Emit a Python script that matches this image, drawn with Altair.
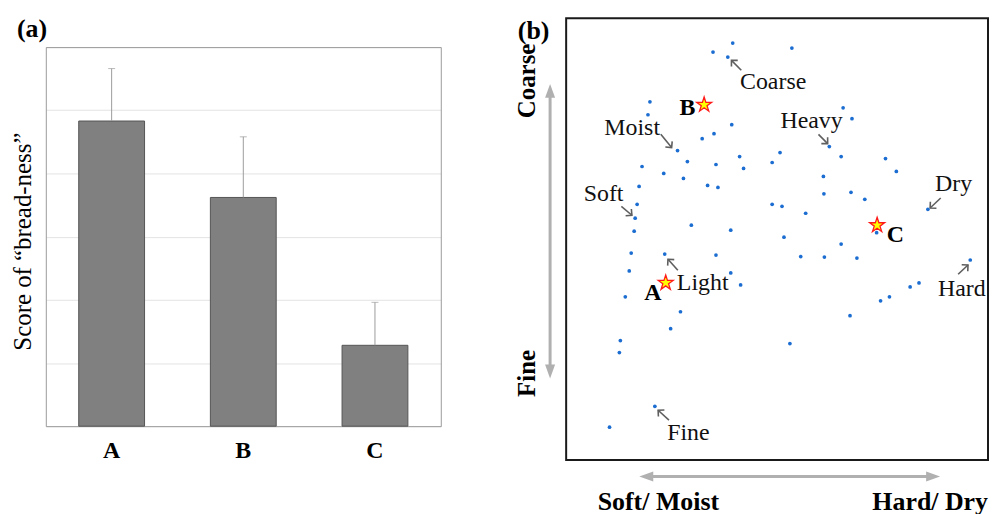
import math
import altair as alt
import pandas as pd

SERIF = "Liberation Serif"

# ---------------- Panel (a): bread-ness scores ----------------
samples = ["A", "B", "C"]
bread_score = [4.83, 3.62, 1.28]
bread_err = [0.83, 0.96, 0.68]
grid_values = [0, 1, 2, 3, 4, 5, 6]

# ---------------- Panel (b): sensory map (map units) ----------------
pt_x = [169, 149, 164, 229, 85, 83, 168, 150, 138, 113, 123, 176, 152, 180,
        77, 99, 119, 143.5, 154, 74, 72, 70, 69, 127, 167, 209, 209, 217,
        281, 290, 267, 279, 324, 335, 261, 261.5, 289, 303, 219, 243, 367,
        315, 221, 66, 100, 152, 64, 167, 177, 60, 116, 106, 55, 54, 90, 44,
        279, 238, 262, 295, 410, 349, 358, 319, 328, 288, 227]
pt_y = [419, 410, 405, 414, 360, 347, 337, 328, 323, 311, 300, 305, 297, 293,
        295, 288, 283, 276, 274, 275, 257, 243, 230, 236, 231, 257, 299, 309,
        354, 343, 315, 305, 303, 290, 285, 267.5, 269, 262, 255, 248, 252,
        228.5, 224, 208, 207, 206, 190, 188, 176, 164, 149, 132, 120, 108, 54, 33,
        217, 204.5, 204, 203, 201, 174, 178, 160, 164, 145, 117]

star_names = ["A", "B", "C"]
star_x = [101, 140, 315.5]
star_y = [178, 357, 236]
star_lab_x = [88, 123, 334]
star_lab_y = [168, 354, 226]

term_names = ["Coarse", "Moist", "Soft", "Heavy", "Dry", "Hard", "Light", "Fine"]
term_x = [210, 67, 38, 249, 393, 401.5, 138.5, 124]
term_y = [380, 334, 267, 341, 277, 172, 178, 27]
arrow_x1 = [177.7, 96, 56, 256, 380, 397.7, 113.3, 104.3]
arrow_y1 = [391.7, 327.3, 255, 327.3, 263.3, 186.7, 190.7, 40]
arrow_x2 = [167.7, 107, 66.7, 265.3, 369.3, 407.7, 103.3, 93.3]
arrow_y2 = [401.7, 314, 246, 318, 253.3, 196, 201.7, 50]

# axis direction arrows (tips) and their labels
v_arrow_x = -16.3
v_arrow_y = [82, 378]
h_arrow_x = [74.3, 379.3]
h_arrow_y = -16.7
side_labels = ["Coarse", "Fine"]
side_x = [-40, -40]
side_y = [381, 87]
bottom_labels = ["Soft/ Moist", "Hard/ Dry"]
bottom_x = [32, 428]
bottom_align = ["left", "right"]
bottom_y = [-42, -42]

# ================= Panel (a) =================
dfa = pd.DataFrame({"sample": samples, "score": bread_score, "err": bread_err})
dfa["upper"] = dfa["score"] + dfa["err"]
ytitle = "Score of \u201cbread-ness\u201d"
BORDER = "#9a9a9a"
PANEL_H = 444
bar_range = [410, 29]   # plot box of panel (a) inside the shared row height

xscale_a = alt.Scale(paddingInner=0.5, paddingOuter=0.25)
yscale_a = alt.Scale(domain=[0, 6], nice=False, range=bar_range)

xa = alt.X("sample:N", sort=samples, scale=xscale_a,
           axis=alt.Axis(title=None, labelAngle=0, labelFont=SERIF, labelFontSize=24,
                         labelFontWeight="bold", labelColor="black", ticks=False,
                         domain=True, domainColor=BORDER, offset=-34, labelPadding=12))
ya = alt.Y("score:Q", title=ytitle, scale=yscale_a,
           axis=alt.Axis(titleFont=SERIF, titleFontSize=25, titleFontWeight="normal",
                         titleColor="black", labels=False, ticks=False, domain=True,
                         domainColor=BORDER, grid=True, gridColor="#e3e3e3",
                         values=grid_values, titleX=-10, titleY=224, titleAngle=270,
                         titleBaseline="bottom", titleAlign="center"))

bars = alt.Chart(dfa).mark_bar(color="#808080", stroke="#555555", strokeWidth=1).encode(x=xa, y=ya)
errs = alt.Chart(dfa).mark_rule(color="#9c9c9c", strokeWidth=1).encode(
    x=alt.X("sample:N", sort=samples, axis=None),
    y=alt.Y("score:Q", title=ytitle, axis=None), y2="upper:Q")
caps = alt.Chart(dfa).mark_tick(color="#9c9c9c", thickness=1, size=7).encode(
    x=alt.X("sample:N", sort=samples, axis=None),
    y=alt.Y("upper:Q", title=ytitle, axis=None))
frame = alt.Chart(dfa).mark_tick(opacity=0).encode(
    x=alt.X("sample:N", sort=samples,
            axis=alt.Axis(orient="top", offset=-29, labels=False, ticks=False, title=None,
                          domain=True, domainColor=BORDER, grid=False)),
    y=alt.Y("score:Q", title=ytitle,
            axis=alt.Axis(orient="right", labels=False, ticks=False, title=None,
                          domain=True, domainColor=BORDER, grid=False)))

left = alt.layer(bars, errs, caps, frame).resolve_axis(x="independent", y="independent").properties(
    width=397, height=PANEL_H,
    view=alt.ViewBackground(strokeWidth=0),
    title=alt.TitleParams("(a)", anchor="start", frame="group", dx=-29, offset=-24,
                          font=SERIF, fontSize=26, fontWeight="bold", color="black"),
)

# ================= Panel (b) =================
xs = alt.Scale(domain=[0, 428], nice=False, zero=False)
ys = alt.Scale(domain=[0, 444], nice=False, zero=False)


def X(f):
    return alt.X(f, type="quantitative", scale=xs, axis=None)


def Y(f):
    return alt.Y(f, type="quantitative", scale=ys, axis=None)


dfp = pd.DataFrame({"x": pt_x, "y": pt_y})
pts = alt.Chart(dfp).mark_circle(size=14, color="#1b6dd1", opacity=1).encode(x=X("x"), y=Y("y"))

STAR = ("M0,-1L0.2245,-0.309L0.951,-0.309L0.363,0.118L0.588,0.809L0,0.382"
        "L-0.588,0.809L-0.363,0.118L-0.951,-0.309L-0.2245,-0.309Z")
dfs = pd.DataFrame({"name": star_names, "x": star_x, "y": star_y,
                    "lx": star_lab_x, "ly": star_lab_y})
stars = alt.Chart(dfs).mark_point(shape=STAR, filled=True, fill="#ffff00", stroke="#ff1a1a",
                                  strokeWidth=1.3, size=250, opacity=1).encode(x=X("x"), y=Y("y"))
star_labels = alt.Chart(dfs).mark_text(font=SERIF, fontSize=24, fontWeight="bold", color="black",
                                       align="center", baseline="middle").encode(
    x=X("lx"), y=Y("ly"), text="name:N")

dft = pd.DataFrame({"term": term_names, "x": term_x, "y": term_y,
                    "x1": arrow_x1, "y1": arrow_y1, "x2": arrow_x2, "y2": arrow_y2})
dft["ang"] = [(math.degrees(math.atan2(-(b2 - b1), a2 - a1)) + 360) % 360
              for a1, b1, a2, b2 in zip(dft.x1, dft.y1, dft.x2, dft.y2)]
terms = alt.Chart(dft).mark_text(font=SERIF, fontSize=24, color="#111111",
                                 align="center", baseline="middle").encode(
    x=X("x"), y=Y("y"), text="term:N")
ann_lines = alt.Chart(dft).mark_rule(color="#5f5f5f", strokeWidth=1.6).encode(
    x=X("x1"), y=Y("y1"), x2="x2:Q", y2="y2:Q")
CHEVRON = "M-1,-1L0,0L-1,1"
ann_heads = alt.Chart(dft).mark_point(shape=CHEVRON, filled=False, stroke="#5f5f5f",
                                      strokeWidth=1.6, size=80, opacity=1).encode(
    x=X("x2"), y=Y("y2"), angle=alt.Angle("ang:Q", scale=None))

# grey axis arrows
HEAD = "M0,-1L0.72,1L-0.72,1Z"
hl = 7.0  # half head length in map units
dfv = pd.DataFrame({"x": [v_arrow_x], "y": [v_arrow_y[0] + hl], "y2": [v_arrow_y[1] - hl]})
dfh = pd.DataFrame({"x": [h_arrow_x[0] + hl], "x2": [h_arrow_x[1] - hl], "y": [h_arrow_y]})
dfheads = pd.DataFrame({
    "x": [v_arrow_x, v_arrow_x, h_arrow_x[0] + hl, h_arrow_x[1] - hl],
    "y": [v_arrow_y[1] - hl, v_arrow_y[0] + hl, h_arrow_y, h_arrow_y],
    "ang": [0, 180, 270, 90],
})
GREY = "#b0b0b0"
v_shaft = alt.Chart(dfv).mark_rule(color=GREY, strokeWidth=3).encode(x=X("x"), y=Y("y"), y2="y2:Q")
h_shaft = alt.Chart(dfh).mark_rule(color=GREY, strokeWidth=3).encode(x=X("x"), x2="x2:Q", y=Y("y"))
g_heads = alt.Chart(dfheads).mark_point(shape=HEAD, filled=True, fill=GREY, strokeWidth=0,
                                        size=196, opacity=1).encode(
    x=X("x"), y=Y("y"), angle=alt.Angle("ang:Q", scale=None))

dfside = pd.DataFrame({"t": side_labels, "x": side_x, "y": side_y})
side_txt = alt.Chart(dfside).mark_text(font=SERIF, fontSize=25, fontWeight="bold", color="black",
                                       angle=270, align="center", baseline="middle").encode(
    x=X("x"), y=Y("y"), text="t:N")

bot_layers = []
for t, bx, by, al in zip(bottom_labels, bottom_x, bottom_y, bottom_align):
    d = pd.DataFrame({"t": [t], "x": [bx], "y": [by]})
    bot_layers.append(alt.Chart(d).mark_text(font=SERIF, fontSize=26, fontWeight="bold",
                                             color="black", align=al, baseline="middle").encode(
        x=X("x"), y=Y("y"), text="t:N"))

dfb = pd.DataFrame({"t": ["(b)"], "x": [-33], "y": [431]})
b_txt = alt.Chart(dfb).mark_text(font=SERIF, fontSize=26, fontWeight="bold", color="black",
                                 align="center", baseline="middle").encode(
    x=X("x"), y=Y("y"), text="t:N")

right = alt.layer(v_shaft, h_shaft, g_heads, side_txt, *bot_layers, b_txt,
                  ann_lines, ann_heads, terms, pts, stars, star_labels).properties(
    width=424, height=PANEL_H,
    view=alt.ViewBackground(stroke="#1a1a1a", strokeWidth=2),
)

chart = alt.hconcat(left, right, spacing=73).properties(
    padding={"left": 2, "top": 7, "right": 0, "bottom": 0},
    background="white",
).configure_view(stroke=None)

chart.save("out.html", embed_options={"renderer": "svg", "actions": False})
